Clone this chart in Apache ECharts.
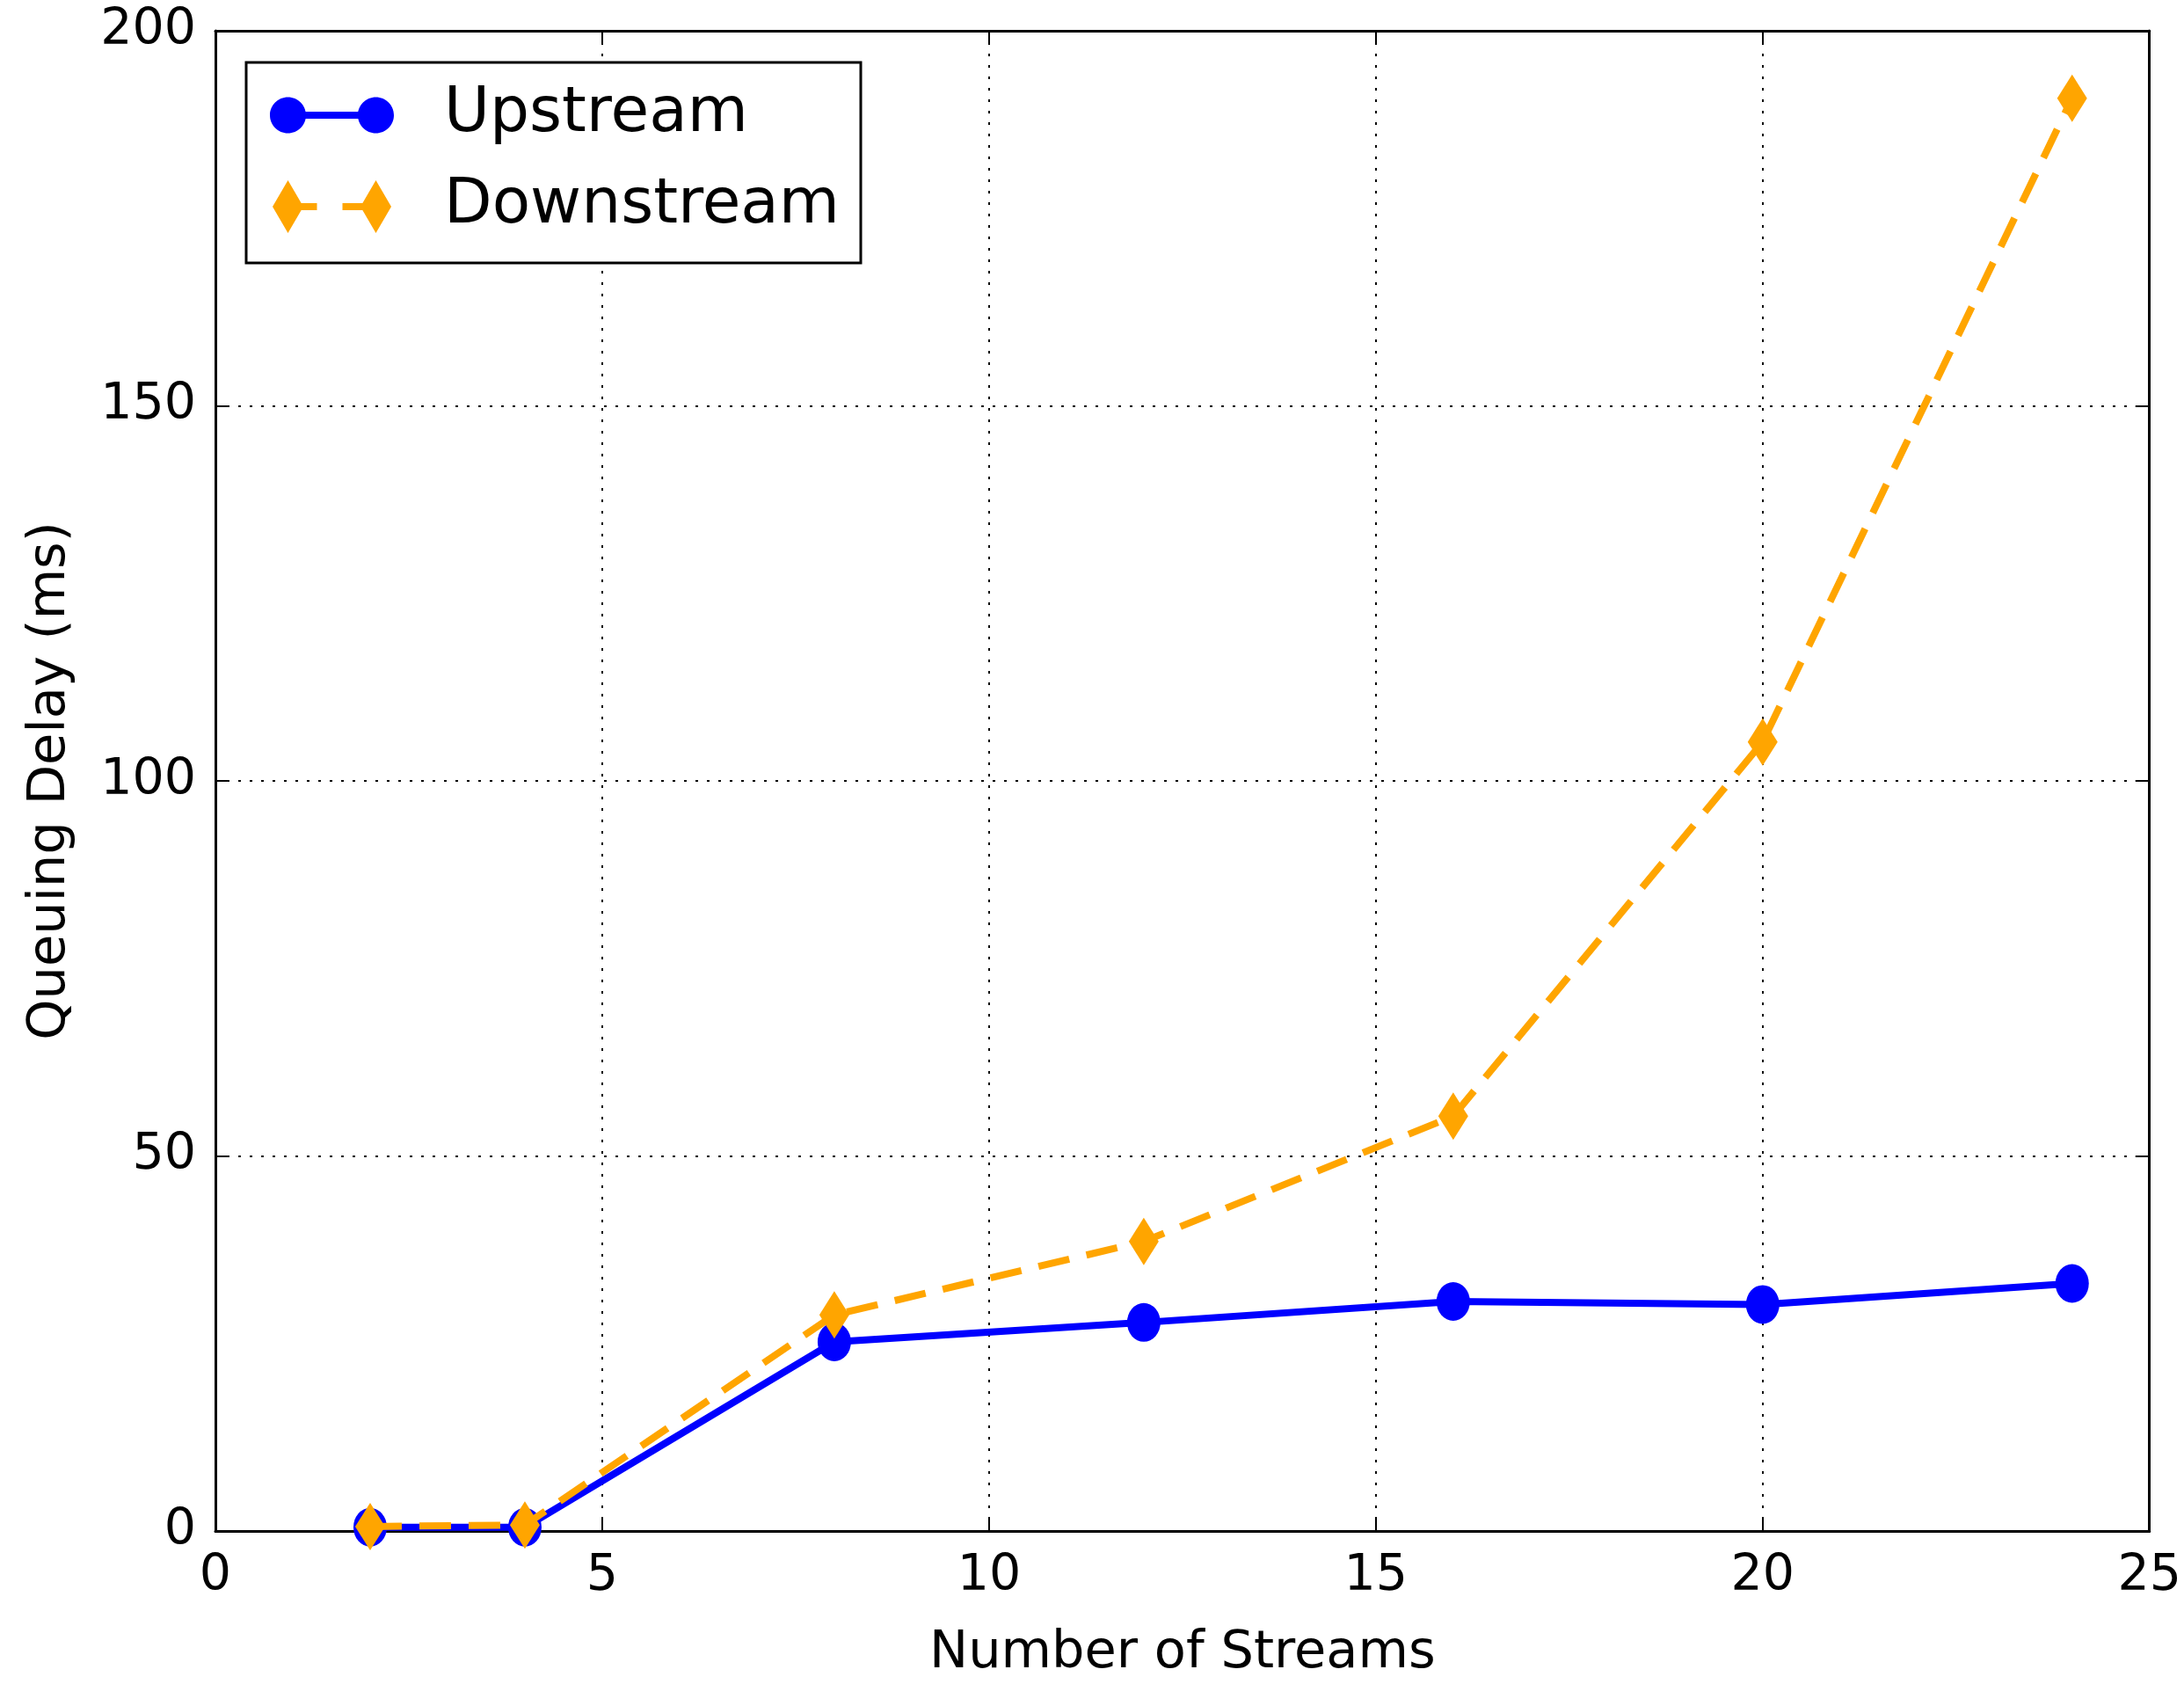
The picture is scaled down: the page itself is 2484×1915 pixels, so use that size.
<!DOCTYPE html>
<html>
<head>
<meta charset="utf-8">
<script src="https://cdn.jsdelivr.net/npm/echarts@6/dist/echarts.min.js"></script>
<style>
html,body{margin:0;padding:0;background:#fff;}
#chart{width:2484px;height:1915px;}
</style>
</head>
<body>
<div id="chart"></div>
<script>
// ---- data ----
const streams = [2, 4, 8, 12, 16, 20, 24];
const upstream = [0.5, 0.5, 25.2, 27.8, 30.6, 30.2, 33.0];
const downstream = [0.6, 0.8, 28.8, 38.6, 55.3, 105.2, 191.0];
const xTicks = [0, 5, 10, 15, 20, 25];
const yTicks = [0, 50, 100, 150, 200];
const seriesNames = ['Upstream', 'Downstream'];

const FONT = 'DejaVu Sans';
const chart = echarts.init(document.getElementById('chart'), null, {renderer: 'canvas'});

const upIcon = 'path://M0 20.5 C0 9.18 9.18 0 20.5 0 C31.82 0 41 9.18 41 20.5 C41 31.82 31.82 41 20.5 41 C9.18 41 0 31.82 0 20.5 Z ' +
  'M100 20.5 C100 9.18 109.18 0 120.5 0 C131.82 0 141 9.18 141 20.5 C141 31.82 131.82 41 120.5 41 C109.18 41 100 31.82 100 20.5 Z ' +
  'M20.5 16.5 L120.5 16.5 L120.5 24.5 L20.5 24.5 Z';
const downIcon = 'path://M20.5 0 L38 30 L20.5 60 L3 30 Z M120.5 0 L138 30 L120.5 60 L103 30 Z ' +
  'M20.5 26 L53.5 26 L53.5 34 L20.5 34 Z M82.5 26 L120.5 26 L120.5 34 L82.5 34 Z';

const gridLine = {show: true, lineStyle: {color: '#000', width: 2, type: [3, 10]}};
const frameLine = {show: true, onZero: false, lineStyle: {color: '#000', width: 3}};
const tick = {show: true, inside: true, length: 16, lineStyle: {color: '#000', width: 2}};

chart.setOption({
  animation: false,
  backgroundColor: '#fff',
  grid: {left: 245, right: 34, top: 35, bottom: 172, containLabel: false},
  xAxis: [{
    type: 'value', min: xTicks[0], max: xTicks[xTicks.length - 1], interval: 5,
    position: 'bottom',
    name: 'Number of Streams', nameLocation: 'middle', nameGap: 110,
    nameTextStyle: {fontFamily: FONT, fontSize: 59, color: '#000'},
    axisLine: frameLine, axisTick: tick,
    axisLabel: {fontFamily: FONT, fontSize: 57, color: '#000', margin: 24},
    splitLine: gridLine
  }, {
    type: 'value', min: xTicks[0], max: xTicks[xTicks.length - 1], interval: 5,
    position: 'top', axisLine: frameLine, axisTick: tick,
    axisLabel: {show: false}, splitLine: {show: false}
  }],
  yAxis: [{
    type: 'value', min: yTicks[0], max: yTicks[yTicks.length - 1], interval: 50,
    position: 'left',
    name: 'Queuing Delay (ms)', nameLocation: 'middle', nameGap: 158,
    nameTextStyle: {fontFamily: FONT, fontSize: 59, color: '#000'},
    axisLine: frameLine, axisTick: tick,
    axisLabel: {fontFamily: FONT, fontSize: 57, color: '#000', margin: 22},
    splitLine: gridLine
  }, {
    type: 'value', min: yTicks[0], max: yTicks[yTicks.length - 1], interval: 50,
    position: 'right', axisLine: frameLine, axisTick: tick,
    axisLabel: {show: false}, splitLine: {show: false}
  }],
  legend: {
    left: 280, top: 71, orient: 'vertical',
    padding: [24, 24, 28, 27],
    borderColor: '#000', borderWidth: 3, backgroundColor: '#fff',
    itemWidth: 141, itemHeight: 60, itemGap: 32,
    symbolKeepAspect: true,
    itemStyle: {borderWidth: 0},
    textStyle: {fontFamily: FONT, fontSize: 71, color: '#000', lineHeight: 72, padding: [0, 0, 0, 52]},
    data: [{name: seriesNames[0], icon: upIcon}, {name: seriesNames[1], icon: downIcon}]
  },
  series: [{
    name: seriesNames[0], type: 'line',
    data: streams.map((x, i) => [x, upstream[i]]),
    symbol: 'circle', symbolSize: [38, 44],
    lineStyle: {color: '#0000ff', width: 8},
    itemStyle: {color: '#0000ff', borderWidth: 0},
    z: 3
  }, {
    name: seriesNames[1], type: 'line',
    data: streams.map((x, i) => [x, downstream[i]]),
    symbol: 'diamond', symbolSize: [34, 54],
    lineStyle: {color: '#ffa500', width: 8, type: [36, 20]},
    itemStyle: {color: '#ffa500', borderWidth: 0},
    z: 4
  }]
});
</script>
</body>
</html>
